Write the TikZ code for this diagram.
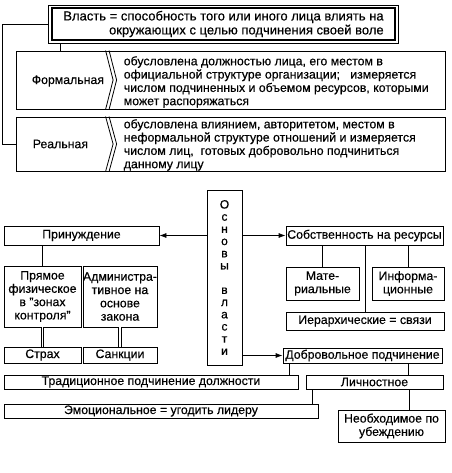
\documentclass[tikz,border=0pt]{standalone}
\usepackage{fontspec}
\setmainfont[FakeBold=0.4]{Liberation Sans}
\usetikzlibrary{arrows.meta,calc,positioning}
\tikzstyle{line}=[-, line width=0.8pt]
\tikzstyle{box}=[draw, line width=0.8pt, inner sep=0pt, align=center]
\tikzstyle{lbl}=[inner sep=0pt, anchor=west, align=left]
\tikzstyle{arr}=[line, -{Latex[length=7pt,width=5pt]}]

\begin{document}
\begin{tikzpicture}[x=1pt,y=-1pt,font=\fontsize{12.3}{13.3}\selectfont]
  \useasboundingbox (0,0) rectangle (451,473);

  % definition of power
  \node[box, minimum width=350pt, minimum height=38pt] (vlastout) at (223,24) {};
  \node[box, line width=1.5pt, minimum width=343pt, minimum height=32pt,
  align=right, font=\fontsize{13}{14}\selectfont] (vlast) at (223.5,24)
  {Власть = способность того или иного лица влиять на\\
   окружающих с целью подчинения своей воле};

  % formal
  \node[box, minimum width=429pt, minimum height=58pt] (formal) at (230.5,80) {};
  \foreach \dx in {0,3.5}
    \draw[line] ($(formal.north west)+(90+\dx,0)$) -- ($(formal.west)+(97.5+\dx,0)$)
    -- ($(formal.south west)+(90+\dx,0)$);
  \node[lbl] (formallbl) at ($(formal.west)+(16,1)$) {Формальная};
  \node[lbl] (formaltxt) at ($(formal.west)+(108,2)$)
  {обусловлена должностью лица, его местом в\\
   официальной структуре организации;\ \ \ измеряется\\
   числом подчиненных и объемом ресурсов, которыми\\
   может распоряжаться};

  % real
  \node[box, minimum width=429pt, minimum height=54pt] (real) at (230.5,144) {};
  \foreach \dx in {0,3.5}
    \draw[line] ($(real.north west)+(90+\dx,0)$) -- ($(real.west)+(97.5+\dx,0)$)
    -- ($(real.south west)+(90+\dx,0)$);
  \node[lbl] (reallbl) at ($(real.west)+(17,0)$) {Реальная};
  \node[lbl] (realtxt) at ($(real.west)+(108,1)$)
  {обусловлена влиянием, авторитетом, местом в\\
   неформальной структуре отношений и измеряется\\
   числом лиц,\ \ готовых добровольно подчиниться\\
   данному лицу};

  \draw[line] (vlastout.west) -- ++(-45,0) |- (real.west);
  \coordinate (tstem) at ($(vlastout.south west)+(13,0)$);
  \draw[line] (tstem) -- (tstem |- formal.north);

  % bases of power
  \node[box, minimum width=35pt, minimum height=175pt,
  font=\fontsize{12}{12.2}\selectfont] (osnovy) at (224.5,277.5)
  {О\\с\\н\\о\\в\\ы\\[12.2pt]в\\л\\а\\с\\т\\и};

  % coercion
  \node[box, minimum width=155pt, minimum height=19pt] (prin) at (81.5,235.5) {Принуждение};
  \node[box, minimum width=77pt, minimum height=61pt] (pryam) at (42.5,296.5)
  {Прямое\\физическое\\в "зонах\\контроля"};
  \node[box, minimum width=74pt, minimum height=61pt] (admin) at (120,296.5)
  {Администра-\\тивное на\\основе\\закона};
  \node[box, minimum width=77pt, minimum height=16pt] (strakh) at (42.5,355) {Страх};
  \node[box, minimum width=74pt, minimum height=16pt] (sank) at (120,355) {Санкции};

  \draw[arr] (osnovy.west |- prin.east) -- (prin.east);
  \draw[line] (pryam.north) -- (pryam.north |- prin.south);
  \draw[line, double, double distance=1.6pt] (pryam) -- (strakh);
  \draw[line, double, double distance=1.6pt] (admin) -- (sank);

  % resources
  \node[box, minimum width=157pt, minimum height=19pt] (sobst) at (364.5,235.5)
  {Собственность на ресурсы};
  \node[box, minimum width=73pt, minimum height=33pt] (mater) at (322.5,283.5)
  {Мате-\\риальные};
  \node[box, minimum width=72pt, minimum height=33pt] (inform) at (408,283.5)
  {Информа-\\ционные};
  \node[box, minimum width=158pt, minimum height=18pt] (ierarch) at (365,321)
  {Иерархические = связи};

  \draw[arr] (osnovy.east |- sobst.west) -- (sobst.west);
  \draw[line] (mater.north) -- (mater.north |- sobst.south);
  \draw[line] (inform.north) -- (inform.north |- sobst.south);
  \draw[line] (ierarch.north) -- (ierarch.north |- sobst.south);

  % voluntary
  \node[box, minimum width=159pt, minimum height=15pt] (dobr) at (362.5,355.5)
  {Добровольное подчинение};
  \node[box, minimum width=294pt, minimum height=14pt] (trad) at (151,382)
  {Традиционное подчинение должности};
  \node[box, minimum width=137pt, minimum height=14pt] (lichn) at (374.5,382)
  {Личностное};
  \node[box, minimum width=314pt, minimum height=14pt] (emoc) at (161,411)
  {Эмоциональное = угодить лидеру};
  \node[box, minimum width=107pt, minimum height=32pt] (neobh) at (391.5,426)
  {Необходимое по\\убеждению};

  \draw[arr] (osnovy.east |- dobr.west) -- (dobr.west);
  \coordinate (dt) at ($(dobr.south west)+(7,0)$);
  \coordinate (dl) at ($(dobr.south east)+(-34,0)$);
  \draw[line] (dt) -- (dt |- trad.north);
  \draw[line] (dl) -- (dl |- lichn.north);
  \coordinate (le) at ($(lichn.south west)+(7,0)$);
  \coordinate (ln) at ($(lichn.south east)+(-34,0)$);
  \draw[line] (le) -- (le |- emoc.north);
  \draw[line] (ln) -- (ln |- neobh.north);

\end{tikzpicture}
\end{document}
